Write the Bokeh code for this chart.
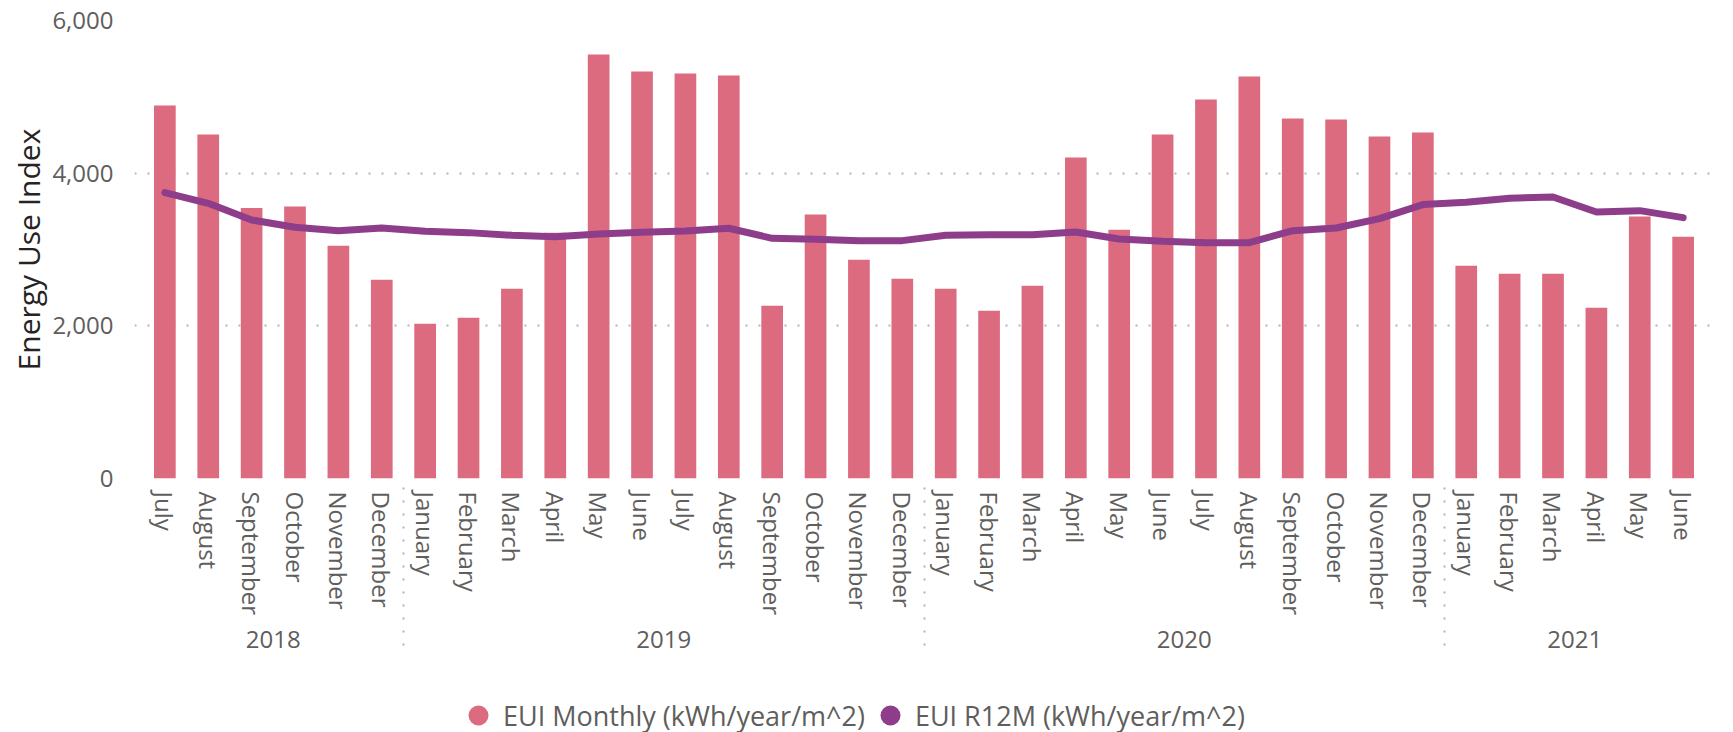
from bokeh.plotting import figure
from bokeh.layouts import column
from bokeh.models import (FactorRange, Range1d, NumeralTickFormatter, FixedTicker,
                          Legend, LegendItem, ColumnDataSource)
from bokeh.embed import file_html
from bokeh.resources import INLINE

# ---------------- data ----------------
years = ["2018"] * 6 + ["2019"] * 12 + ["2020"] * 12 + ["2021"] * 6
months = (["July", "August", "September", "October", "November", "December"]
          + ["January", "February", "March", "April", "May", "June",
             "July", "August", "September", "October", "November", "December"] * 2
          + ["January", "February", "March", "April", "May", "June"])
eui_monthly = [4886, 4506, 3544, 3562, 3050, 2605,
               2028, 2106, 2487, 3220, 5554, 5331, 5305, 5279, 2264, 3457, 2867, 2618,
               2487, 2198, 2526, 4204, 3260, 4506, 4964, 5266, 4715, 4702, 4479, 4532,
               2788, 2683, 2683, 2237, 3431, 3168]
eui_r12m = [3745, 3605, 3387, 3291, 3247, 3282,
            3238, 3221, 3186, 3168, 3203, 3225, 3243, 3278, 3146, 3133, 3116, 3116,
            3186, 3194, 3194, 3229, 3138, 3107, 3090, 3090, 3247, 3282, 3404, 3588,
            3618, 3671, 3688, 3492, 3509, 3417]
y_ticks = [0, 2000, 4000, 6000]
series_names = ["EUI Monthly (kWh/year/m^2)", "EUI R12M (kWh/year/m^2)"]

BAR = "#DC6B7F"
LINE = "#8E3D8A"
FONT = "Open Sans"
TXT = "#605E5C"
GRID = "#B4B4B4"

factors = list(zip(years, months))
src = ColumnDataSource(data=dict(x=factors, bar=eui_monthly, r12=eui_r12m))

xr = FactorRange(*factors, factor_padding=0, group_padding=0, subgroup_padding=0,
                 range_padding=0.2, range_padding_units="absolute")
yr = Range1d(0, 6000)

# ---------------- main chart ----------------
p = figure(x_range=xr, y_range=yr,
           width=1733, height=672,
           min_border_left=134, min_border_right=20, min_border_top=20, min_border_bottom=194,
           output_backend="svg", toolbar_location=None,
           background_fill_color="white", border_fill_color="white")
p.outline_line_color = None

p.vbar(x="x", top="bar", width=0.5, source=src, fill_color=BAR, line_color=None)
p.line(x="x", y="r12", source=src, line_color=LINE, line_width=7,
       line_join="round", line_cap="round")

# grid
p.xgrid.grid_line_color = None
p.ygrid.ticker = FixedTicker(ticks=y_ticks)
p.ygrid.grid_line_color = GRID
p.ygrid.grid_line_width = 2
p.ygrid.grid_line_dash = "2 11"

# y axis
yax = p.yaxis[0]
yax.ticker = FixedTicker(ticks=y_ticks)
yax.formatter = NumeralTickFormatter(format="0,0")
yax.axis_line_color = None
yax.major_tick_line_color = None
yax.major_tick_out = 0
yax.major_tick_in = 0
yax.minor_tick_line_color = None
yax.major_label_text_font = FONT
yax.major_label_text_font_size = "24px"
yax.major_label_text_color = TXT
yax.major_label_standoff = 21
yax.axis_label = "Energy Use Index"
yax.axis_label_text_font = FONT
yax.axis_label_text_font_size = "30px"
yax.axis_label_text_font_style = "normal"
yax.axis_label_text_color = "#252423"
yax.axis_label_standoff = 0

# x axis
xax = p.xaxis[0]
xax.axis_line_color = None
xax.major_tick_line_color = None
xax.major_tick_out = 0
xax.major_tick_in = 0
xax.minor_tick_line_color = None
xax.major_label_orientation = "vertical"
xax.major_label_text_font = FONT
xax.major_label_text_font_size = "24px"
xax.major_label_text_color = TXT
xax.major_label_standoff = 13
xax.group_text_font = FONT
xax.group_text_font_size = "24px"
xax.group_text_font_style = "normal"
xax.group_text_color = TXT
xax.separator_line_color = GRID
xax.separator_line_width = 2
xax.separator_line_dash = "2 11"

# ---------------- legend strip ----------------
pl = figure(x_range=xr, y_range=yr, width=1733, height=60,
            min_border_left=0, min_border_right=0, min_border_top=0, min_border_bottom=0,
            x_axis_location=None, y_axis_location=None,
            output_backend="svg", toolbar_location=None,
            background_fill_color="white", border_fill_color="white")
pl.outline_line_color = None
pl.xgrid.visible = False
pl.ygrid.visible = False
# invisible markers on the data, used only as circle glyphs for the legend
r1 = pl.scatter(x="x", y="bar", source=src, marker="circle", size=0,
                fill_color=BAR, line_color=None)
r2 = pl.scatter(x="x", y="r12", source=src, marker="circle", size=0,
                fill_color=LINE, line_color=None)

legend = Legend(items=[LegendItem(label=series_names[0], renderers=[r1]),
                       LegendItem(label=series_names[1], renderers=[r2])],
                orientation="horizontal", location=(319, -8),
                glyph_width=50, glyph_height=50, spacing=0, padding=0, margin=0,
                label_standoff=0,
                border_line_color=None, background_fill_alpha=0,
                label_text_font=FONT, label_text_font_size="27px", label_text_color=TXT)
pl.add_layout(legend)

page = column(p, pl, spacing=0)
open("out.html", "w").write(file_html(page, INLINE))
